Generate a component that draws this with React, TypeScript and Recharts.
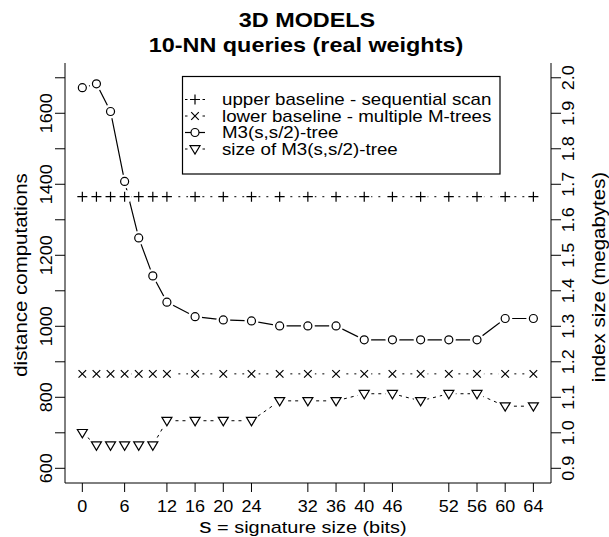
import { ComposedChart, Line, XAxis, YAxis } from 'recharts'
import type { ReactNode } from 'react'

const FONT = '"Liberation Sans", Arial, Helvetica, sans-serif'
// the reference font runs a little wider than Liberation Sans at the same height
const STRETCH = 1.17

// signature size s (bits)
const sizes = [0, 2, 4, 6, 8, 10, 12, 16, 20, 24, 28, 32, 36, 40, 44, 48, 52, 56, 60, 64]
// distance computations
const upperBaseline = [1365, 1365, 1365, 1365, 1365, 1365, 1365, 1365, 1365, 1365, 1365, 1365, 1365, 1365, 1365, 1365, 1365, 1365, 1365, 1365]
const lowerBaseline = [866, 866, 866, 866, 866, 866, 866, 866, 866, 866, 866, 866, 866, 866, 866, 866, 866, 866, 866, 866]
const m3Tree = [1672, 1683, 1605, 1408, 1249, 1142, 1068, 1027, 1018, 1015, 1001, 1001, 1001, 962, 962, 962, 962, 962, 1022, 1022]
// index size (megabytes)
const m3Size = [1.0, 0.965, 0.965, 0.965, 0.965, 0.965, 1.034, 1.034, 1.034, 1.034, 1.09, 1.09, 1.09, 1.11, 1.11, 1.09, 1.11, 1.11, 1.075, 1.075]

const xTicks = [0, 6, 12, 16, 20, 24, 32, 36, 40, 44, 52, 56, 60, 64]
const xTickLabels = ['0', '6', '12', '16', '20', '24', '32', '36', '40', '46', '52', '56', '60', '64']
const leftTicks = [600, 700, 800, 900, 1000, 1100, 1200, 1300, 1400, 1500, 1600, 1700]
const rightTicks = [0.9, 1.0, 1.1, 1.2, 1.3, 1.4, 1.5, 1.6, 1.7, 1.8, 1.9, 2.0]

const data = sizes.map((s, i) => ({
  s,
  upper: upperBaseline[i],
  lower: lowerBaseline[i],
  tree: m3Tree[i],
  size: m3Size[i],
}))

const xDomain = [-2.46, 66.5]

function plusMark(cx: number, cy: number, k?: string) {
  return (
    <g key={k}>
      <circle cx={cx} cy={cy} r={7} fill="#fff" />
      <path d={`M${cx - 5},${cy}H${cx + 5}M${cx},${cy - 5}V${cy + 5}`} stroke="#000" strokeWidth={1.2} />
    </g>
  )
}

function crossMark(cx: number, cy: number, k?: string) {
  return (
    <g key={k}>
      <circle cx={cx} cy={cy} r={7} fill="#fff" />
      <path
        d={`M${cx - 3.8},${cy - 3.8}L${cx + 3.8},${cy + 3.8}M${cx - 3.8},${cy + 3.8}L${cx + 3.8},${cy - 3.8}`}
        stroke="#000"
        strokeWidth={1.2}
      />
    </g>
  )
}

function circleMark(cx: number, cy: number, k?: string) {
  return (
    <g key={k}>
      <circle cx={cx} cy={cy} r={7} fill="#fff" />
      <circle cx={cx} cy={cy} r={4} fill="#fff" stroke="#000" strokeWidth={1.2} />
    </g>
  )
}

function triangleMark(cx: number, cy: number, k?: string) {
  return (
    <g key={k}>
      <circle cx={cx} cy={cy} r={7} fill="#fff" />
      <path
        d={`M${cx - 5},${cy - 3.3}L${cx + 5},${cy - 3.3}L${cx},${cy + 5}Z`}
        fill="none"
        stroke="#000"
        strokeWidth={1.2}
      />
    </g>
  )
}

const dotOf = (mark: typeof plusMark, name: string) => (p: any) =>
  mark(p.cx, p.cy, `${name}-${p.index}`)

function SText({
  x,
  y,
  rotate = 0,
  sx = STRETCH,
  children,
  ...rest
}: {
  x: number
  y: number
  rotate?: number
  sx?: number
  children: ReactNode
  [key: string]: any
}) {
  return (
    <text
      transform={`translate(${x} ${y}) rotate(${rotate}) scale(${sx} 1)`}
      fill="#000"
      fontFamily={FONT}
      {...rest}
    >
      {children}
    </text>
  )
}

function LeftTick({ y, payload }: any) {
  if (payload.value % 200 !== 0) return <g />
  return (
    <SText x={46} y={y} rotate={-90} sx={1.06} textAnchor="middle" dominantBaseline="central" fontSize={17}>
      {payload.value}
    </SText>
  )
}

function RightTick({ y, payload }: any) {
  return (
    <SText x={568} y={y} rotate={-90} sx={1.06} textAnchor="middle" dominantBaseline="central" fontSize={17}>
      {payload.value.toFixed(1)}
    </SText>
  )
}

function BottomTick({ x, y, payload }: any) {
  return (
    <SText x={x} y={y} sx={1.06} textAnchor="middle" dy="0.71em" fontSize={17}>
      {xTickLabels[xTicks.indexOf(payload.value)]}
    </SText>
  )
}

const legendRows = [
  { label: 'upper baseline - sequential scan', mark: plusMark, solid: false },
  { label: 'lower baseline - multiple M-trees', mark: crossMark, solid: false },
  { label: 'M3(s,s/2)-tree', mark: circleMark, solid: true },
  { label: 'size of M3(s,s/2)-tree', mark: triangleMark, solid: false },
]
const legendY = [99.5, 116, 132.5, 149]

export default function App() {
  return (
    <div style={{ position: 'absolute', left: 0, top: 0, width: 609, height: 537, background: '#fff' }}>
      <ComposedChart
        width={609}
        height={537}
        data={data}
        margin={{ top: 63, right: 0, bottom: 0, left: 0 }}
      >
        <XAxis
          dataKey="s"
          type="number"
          domain={xDomain}
          ticks={xTicks}
          interval={0}
          allowDataOverflow
          height={54}
          stroke="#000"
          tickSize={9}
          tickMargin={8}
          tick={<BottomTick />}
        />
        <XAxis
          xAxisId="top"
          orientation="top"
          dataKey="s"
          type="number"
          domain={xDomain}
          allowDataOverflow
          height={0}
          tick={false}
          tickLine={false}
          stroke="#000"
        />
        <YAxis
          yAxisId="left"
          domain={[558.6, 1741.6]}
          ticks={leftTicks}
          interval={0}
          allowDataOverflow
          width={65}
          tickSize={10}
          stroke="#000"
          tick={<LeftTick />}
        />
        <YAxis
          yAxisId="right"
          orientation="right"
          domain={[0.8586, 2.0416]}
          ticks={rightTicks}
          interval={0}
          allowDataOverflow
          width={58}
          tickSize={10}
          stroke="#000"
          tick={<RightTick />}
        />
        <Line
          yAxisId="left"
          dataKey="upper"
          stroke="#000"
          strokeWidth={1}
          strokeDasharray="2 6"
          dot={dotOf(plusMark, 'up')}
          activeDot={false}
          isAnimationActive={false}
        />
        <Line
          yAxisId="left"
          dataKey="lower"
          stroke="#000"
          strokeWidth={1}
          strokeDasharray="2 6"
          dot={dotOf(crossMark, 'lo')}
          activeDot={false}
          isAnimationActive={false}
        />
        <Line
          yAxisId="right"
          dataKey="size"
          stroke="#000"
          strokeWidth={1}
          strokeDasharray="3 4"
          dot={dotOf(triangleMark, 'sz')}
          activeDot={false}
          isAnimationActive={false}
        />
        <Line
          yAxisId="left"
          dataKey="tree"
          stroke="#000"
          strokeWidth={1.2}
          dot={dotOf(circleMark, 'tr')}
          activeDot={false}
          isAnimationActive={false}
        />
      </ComposedChart>

      <svg
        width={609}
        height={537}
        style={{ position: 'absolute', left: 0, top: 0, pointerEvents: 'none' }}
      >
        <SText x={307} y={27} textAnchor="middle" fontSize={20} fontWeight="bold">
          3D MODELS
        </SText>
        <SText x={306} y={51.5} textAnchor="middle" fontSize={20} fontWeight="bold">
          10-NN queries (real weights)
        </SText>
        <SText x={303} y={533} textAnchor="middle" fontSize={17}>
          <tspan fontSize={21}>s</tspan> = signature size (bits)
        </SText>
        <SText x={21} y={275} rotate={-90} textAnchor="middle" dominantBaseline="central" fontSize={17.5}>
          distance computations
        </SText>
        <SText x={599} y={277} rotate={-90} textAnchor="middle" dominantBaseline="central" fontSize={17.5}>
          index size (megabytes)
        </SText>

        <rect x={182.5} y={76.5} width={317.5} height={97.5} fill="#fff" stroke="#000" strokeWidth={1.2} />
        {legendRows.map((row, i) => {
          const y = legendY[i]
          return (
            <g key={row.label}>
              {row.solid ? (
                <line x1={185} x2={205} y1={y} y2={y} stroke="#000" strokeWidth={1.2} />
              ) : (
                <g stroke="#000" strokeWidth={1}>
                  <line x1={185} x2={187.5} y1={y} y2={y} />
                  <line x1={202.5} x2={205} y1={y} y2={y} />
                </g>
              )}
              {row.solid ? (
                <circle cx={195} cy={y} r={4} fill="#fff" stroke="#000" strokeWidth={1.2} />
              ) : (
                row.mark(195, y)
              )}
              <SText x={222} y={y} dominantBaseline="central" fontSize={16}>
                {row.label}
              </SText>
            </g>
          )
        })}
      </svg>
    </div>
  )
}
